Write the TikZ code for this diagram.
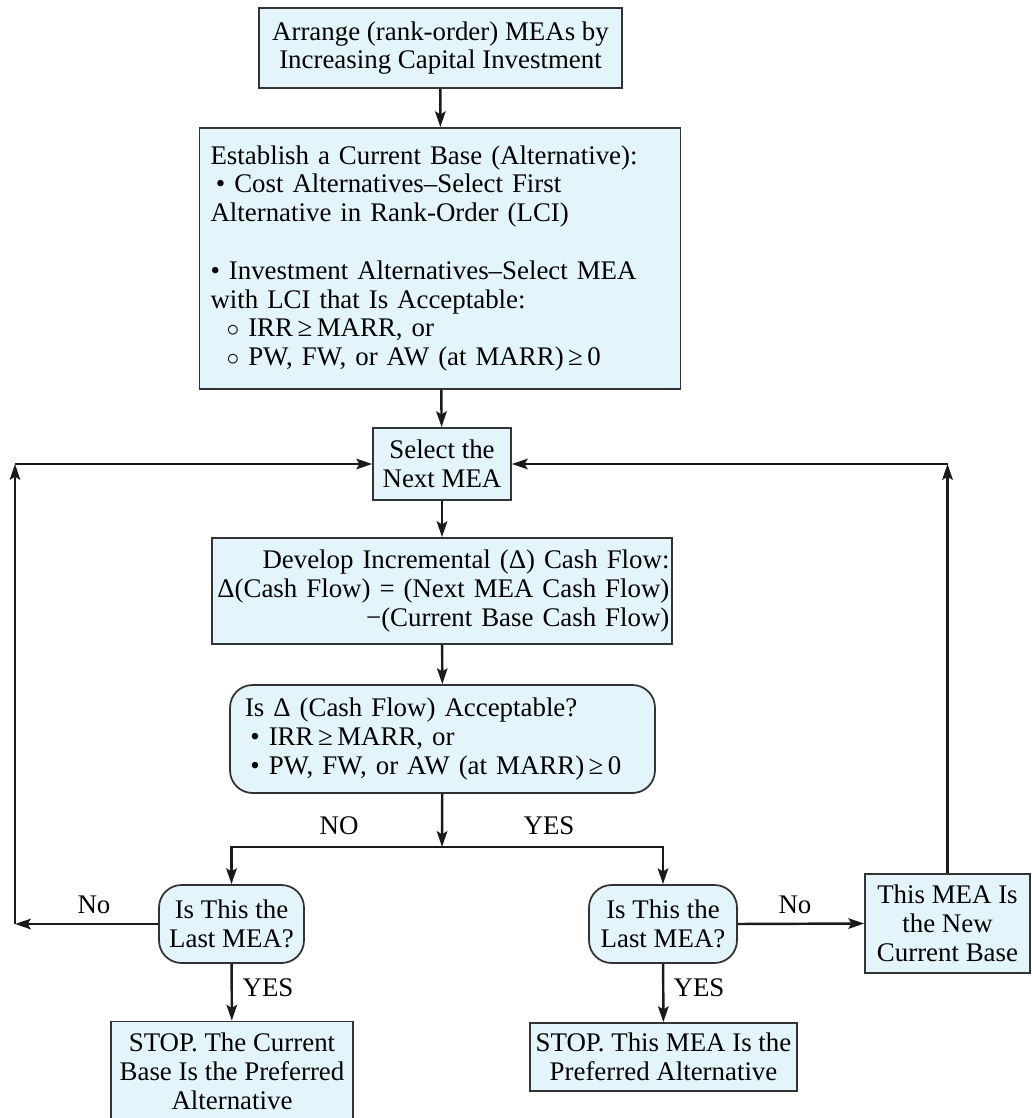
\documentclass[tikz,border=0pt]{standalone}
\usepackage{fontspec}
\setmainfont{Liberation Serif}
\usetikzlibrary{arrows.meta,positioning,calc}
\definecolor{boxfill}{HTML}{E3F4FB}
\definecolor{boxline}{HTML}{333333}
\definecolor{flow}{HTML}{1A1A1A}

\tikzset{
  stepbox/.style={draw=boxline,line width=1pt,fill=boxfill,inner sep=0pt,align=center},
  askbox/.style={stepbox,rounded corners=0.45cm},
  flowline/.style={draw=flow,line width=1.4pt},
  flowarrow/.style={flowline,-{Stealth[length=9pt,width=6pt,inset=1.8pt]}},
  lbl/.style={inner sep=0pt}
}

\begin{document}
\begin{tikzpicture}[x=0.02cm,y=-0.02cm,font=\fontsize{15.3pt}{16.4pt}\selectfont]
\useasboundingbox (0,0) rectangle (1031,1118);
% boxes
\node[stepbox,minimum width=7.26cm,minimum height=1.6cm] (arr) at (440.5,48)
  {Arrange (rank-order) MEAs by\\Increasing Capital Investment};
\node[stepbox,align=left,text width=9.18cm,inner xsep=0.22cm,minimum height=5.22cm] (base) at (440,258.5)
  {Establish a Current Base (Alternative):\\
   \hspace{0.2em}• Cost Alternatives–Select First\\
   Alternative in Rank-Order (LCI)\\[16.4pt]
   • Investment Alternatives–Select MEA\\
   with LCI that Is Acceptable:\\
   \hspace{0.6em}$\circ$ IRR\,≥\,MARR, or\\
   \hspace{0.6em}$\circ$ PW, FW, or AW (at MARR)\,≥\,0};
\node[stepbox,minimum width=2.76cm,minimum height=1.44cm] (sel) at (442,464)
  {Select the\\Next MEA};
\node[stepbox,align=right,text width=9.1cm,inner xsep=0.05cm,minimum height=2.12cm] (dev) at (442,591)
  {Develop Incremental (Δ) Cash Flow:\\
   Δ(Cash Flow) = (Next MEA Cash Flow)\\
   −(Current Base Cash Flow)};
\node[askbox,align=left,text width=7.9cm,inner xsep=0.3cm,minimum height=2.16cm] (acc) at (442.5,739)
  {Is Δ (Cash Flow) Acceptable?\\
   \hspace{0.2em}• IRR\,≥\,MARR, or\\
   \hspace{0.2em}• PW, FW, or AW (at MARR)\,≥\,0};
\node[askbox,minimum width=2.9cm,minimum height=1.56cm] (lastL) at (231.5,924)
  {Is This the\\Last MEA?};
\node[askbox,minimum width=2.96cm,minimum height=1.56cm] (lastR) at (663,924)
  {Is This the\\Last MEA?};
\node[stepbox,minimum width=3.3cm,minimum height=1.98cm] (newb) at (947.5,923.5)
  {This MEA Is\\the New\\Current Base};
\node[stepbox,minimum width=4.84cm,minimum height=1.98cm] (stopL) at (232,1071)
  {STOP. The Current\\Base Is the Preferred\\Alternative};
\node[stepbox,minimum width=5.34cm,minimum height=1.36cm] (stopR) at (663.5,1057)
  {STOP. This MEA Is the\\Preferred Alternative};
% junctions
\coordinate (split) at (442,847);
\coordinate (lb) at (15,924);
\coordinate (lt) at (15,464);
\coordinate (rt) at (lt -| newb.north);
% connectors
\draw[flowarrow] (arr) -- (base);
\draw[flowarrow] (base) -- (sel);
\draw[flowarrow] (sel) -- (dev);
\draw[flowarrow] (dev) -- (acc);
\draw[flowarrow] (acc) -- (split);
\draw[flowarrow] (split) -| (lastL.north);
\draw[flowarrow] (split) -| (lastR.north);
\draw[flowarrow] (lastL.west) -- (lb);
\draw[flowarrow] (lb) -- (lt);
\draw[flowarrow] (lt) -- (sel.west);
\draw[flowarrow] (lastR.east) -- (newb.west);
\draw[flowarrow] (newb.north) -- (rt);
\draw[flowarrow] (rt) -- (sel.east);
\draw[flowarrow] (lastL) -- (stopL);
\draw[flowarrow] (lastR) -- (stopR);
% labels
\node[lbl] (no1) at (339,826) {NO};
\node[lbl] (yes1) at (549,826) {YES};
\node[lbl] (no2) at (94,905) {No};
\node[lbl] (no3) at (795,905) {No};
\node[lbl] (yes2) at (268,988) {YES};
\node[lbl] (yes3) at (699,988) {YES};
\end{tikzpicture}
\end{document}
